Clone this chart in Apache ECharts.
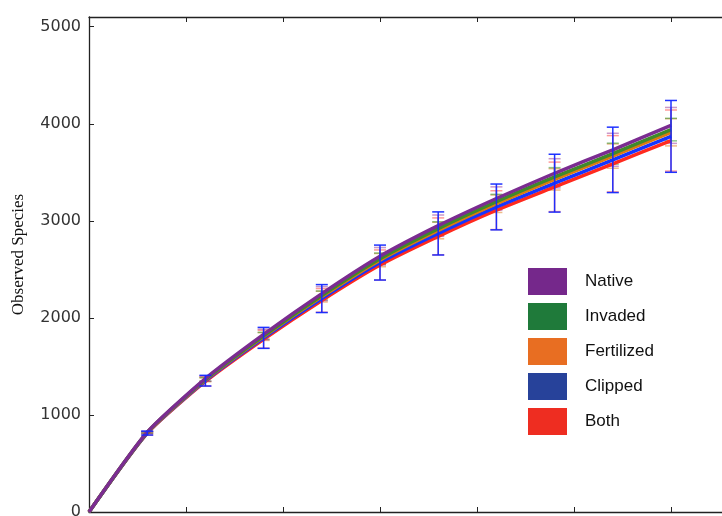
<!DOCTYPE html>
<html>
<head>
<meta charset="utf-8">
<script src="https://cdn.jsdelivr.net/npm/echarts@6/dist/echarts.min.js"></script>
<style>
  html, body { margin: 0; padding: 0; background: #fff; }
  #chart { width: 722px; height: 516px; }
</style>
</head>
<body>
<div id="chart"></div>
<script>
// sequencing depth (x) and mean observed species per treatment
var depth = [0, 3000, 6000, 9000, 12000, 15000, 18000, 21000, 24000, 27000, 30000];

var nativeMean     = [0, 822, 1375, 1830, 2250, 2635, 2950, 3230, 3490, 3732, 3983];
var invadedMean    = [0, 819, 1367, 1816, 2231, 2610, 2920, 3197, 3452, 3692, 3940];
var fertilizedMean = [0, 817, 1362, 1808, 2219, 2595, 2900, 3176, 3427, 3667, 3912];
var clippedMean    = [0, 813, 1353, 1794, 2199, 2570, 2870, 3143, 3388, 3628, 3870];
var bothMean       = [0, 810, 1345, 1780, 2180, 2545, 2840, 3110, 3350, 3588, 3827];

// standard deviations (error bars)
var nativeErr     = [0, 10, 28, 54, 72, 90, 110, 120, 150, 170, 185];
var invadedErr    = [0, 8, 18, 35, 46, 58, 70, 76, 96, 108, 116];
var fertilizedErr = [0, 8, 20, 40, 55, 68, 85, 90, 110, 125, 140];
var clippedErr    = [0, 20, 55, 108, 144, 180, 222, 236, 298, 337, 370];
var bothErr       = [0, 18, 48, 92, 122, 155, 190, 200, 255, 290, 315];

var yTicks = [0, 1000, 2000, 3000, 4000, 5000];

var groups = [
  ['Both', bothMean, bothErr, '#ff2a1f', '#ee2d21', 'rgba(255,70,70,0.55)'],
  ['Clipped', clippedMean, clippedErr, '#1535ff', '#27429a', 'rgba(20,40,255,0.95)'],
  ['Fertilized', fertilizedMean, fertilizedErr, '#dc7a10', '#e86e22', 'rgba(225,130,40,0.55)'],
  ['Invaded', invadedMean, invadedErr, '#3f8a2a', '#1f7a3a', 'rgba(50,150,50,0.55)'],
  ['Native', nativeMean, nativeErr, '#7b2c91', '#75288b', 'rgba(150,50,150,0.5)']
];

function errorBar(color) {
  return function (params, api) {
    var x = api.value(0);
    var lo = api.coord([x, api.value(1)]);
    var hi = api.coord([x, api.value(2)]);
    var s = { stroke: color, lineWidth: 1.5 };
    return {
      type: 'group',
      children: [
        { type: 'line', shape: { x1: lo[0], y1: lo[1], x2: hi[0], y2: hi[1] }, style: s },
        { type: 'line', shape: { x1: lo[0] - 6, y1: lo[1], x2: lo[0] + 6, y2: lo[1] }, style: s },
        { type: 'line', shape: { x1: hi[0] - 6, y1: hi[1], x2: hi[0] + 6, y2: hi[1] }, style: s }
      ]
    };
  };
}

var series = [];
groups.forEach(function (g, i) {
  series.push({
    name: g[0],
    type: 'line',
    data: depth.map(function (d, k) { return [d, g[1][k]]; }),
    showSymbol: false,
    smooth: 0.2,
    z: 3 + i,
    itemStyle: { color: g[4] },
    lineStyle: { color: g[3], width: 3.5 },
    emphasis: { disabled: true }
  });
  series.push({
    name: g[0],
    type: 'custom',
    renderItem: errorBar(g[5]),
    data: depth.slice(1).map(function (d, k) {
      return [d, g[1][k + 1] - g[2][k + 1], g[1][k + 1] + g[2][k + 1]];
    }),
    z: g[0] === 'Clipped' ? 20 : 2,
    silent: true
  });
});

var legendOrder = ['Native', 'Invaded', 'Fertilized', 'Clipped', 'Both'];
var legendColor = { Native: '#75288b', Invaded: '#1f7a3a', Fertilized: '#e86e22', Clipped: '#27429a', Both: '#ee2d21' };

var option = {
  backgroundColor: '#fff',
  animation: false,
  grid: { left: 89, top: 17, right: -46, bottom: 4, containLabel: false, outerBoundsMode: 'none' },
  legend: {
    orient: 'vertical',
    left: 528,
    top: 268,
    padding: 0,
    icon: 'rect',
    itemWidth: 39,
    itemHeight: 27,
    itemGap: 8,
    selectedMode: false,
    textStyle: { fontFamily: 'Liberation Sans', fontSize: 17, color: '#111', padding: [0, 0, 0, 13] },
    data: legendOrder.map(function (n) {
      return { name: n, itemStyle: { color: legendColor[n] } };
    })
  },
  xAxis: [
    {
      type: 'value', min: 0, max: 35000, interval: 5000,
      axisLine: { lineStyle: { color: '#222', width: 1.3 } },
      axisTick: { inside: true, length: 5, lineStyle: { color: '#222' } },
      axisLabel: { show: false },
      splitLine: { show: false }
    },
    {
      type: 'value', position: 'top', min: 0, max: 35000, interval: 5000,
      axisLine: { lineStyle: { color: '#222', width: 1.3 } },
      axisTick: { inside: true, length: 5, lineStyle: { color: '#222' } },
      axisLabel: { show: false },
      splitLine: { show: false }
    }
  ],
  yAxis: {
    type: 'value', min: 0, max: 5100, interval: 1000,
    name: 'Observed Species',
    nameLocation: 'middle',
    nameRotate: 90,
    nameGap: 62,
    nameMoveOverlap: false,
    nameTextStyle: { fontFamily: 'Liberation Serif', fontSize: 17, color: '#111', padding: [0, 0, 0, 20] },
    axisLine: { show: true, lineStyle: { color: '#222', width: 1.3 } },
    axisTick: { inside: true, length: 5, lineStyle: { color: '#222' } },
    axisLabel: {
      fontFamily: 'DejaVu Sans', fontSize: 16, color: '#333', margin: 8,
      showMaxLabel: false,
      formatter: function (v) { return yTicks.indexOf(v) >= 0 ? String(v) : ''; }
    },
    splitLine: { show: false }
  },
  series: series
};

var chart = echarts.init(document.getElementById('chart'));
chart.setOption(option);
</script>
</body>
</html>
